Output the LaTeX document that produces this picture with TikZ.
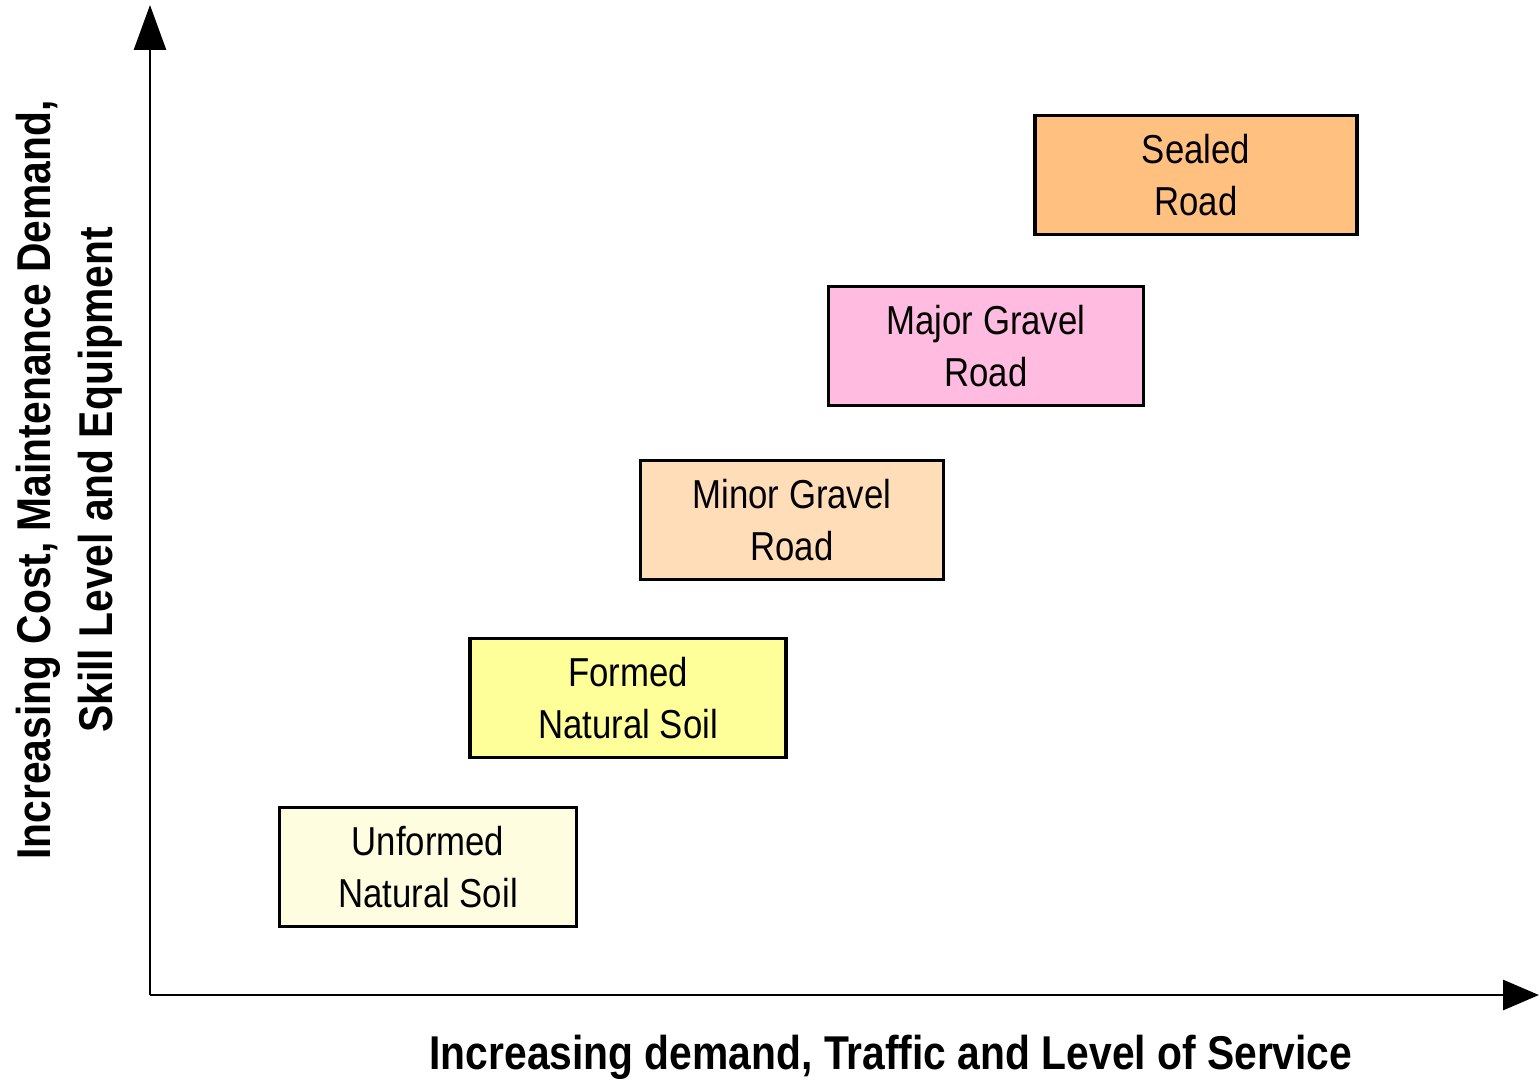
\documentclass[tikz,border=0pt]{standalone}
\usepackage{fontspec}
\setmainfont{Liberation Sans}[FakeStretch=0.86]
\usetikzlibrary{arrows.meta}
\definecolor{unformed}{HTML}{FFFDE0}
\definecolor{formed}{HTML}{FFFF99}
\definecolor{minorgr}{HTML}{FFDDB8}
\definecolor{majorgr}{HTML}{FFBBE0}
\definecolor{sealed}{HTML}{FFC080}
\tikzset{
	road/.style={draw, line width=2pt, minimum height=2.38cm, align=center,
		inner sep=0pt, font=\fontsize{23}{29.5}\selectfont},
	axis/.style={line width=1.6pt},
	axislabel/.style={align=center, font=\fontsize{27}{35}\selectfont\bfseries}
}
\begin{document}
\begin{tikzpicture}[x=0.02cm,y=-0.02cm]
	\useasboundingbox (0,0) rectangle (1539,1083);
	% axes
	\coordinate (o) at (150,995);
	\coordinate (ytip) at (150,5);
	\coordinate (xtip) at (1539,995);
	\draw[axis,-{Triangle[length=0.9cm,width=0.64cm]}] (o) -- (ytip);
	\draw[axis,-{Triangle[length=0.72cm,width=0.6cm]}] (o) -- (xtip);
	\node[axislabel] (xlab) at (891,1057) {Increasing demand, Traffic and Level of Service};
	\node[axislabel,rotate=90] (ylab) at (69,480) {Increasing Cost, Maintenance Demand,\\Skill Level and Equipment};
	% road types
	\node[road,fill=unformed,minimum width=5.94cm] (unf) at (428,867) {Unformed\\Natural Soil};
	\node[road,fill=formed,minimum width=6.32cm] (frm) at (628,698) {Formed\\Natural Soil};
	\node[road,fill=minorgr,minimum width=6.06cm] (mnr) at (792,520) {Minor Gravel\\Road};
	\node[road,fill=majorgr,minimum width=6.30cm] (mjr) at (986,346) {Major Gravel\\Road};
	\node[road,fill=sealed,minimum width=6.44cm] (sld) at (1196,175) {Sealed\\Road};
\end{tikzpicture}
\end{document}
